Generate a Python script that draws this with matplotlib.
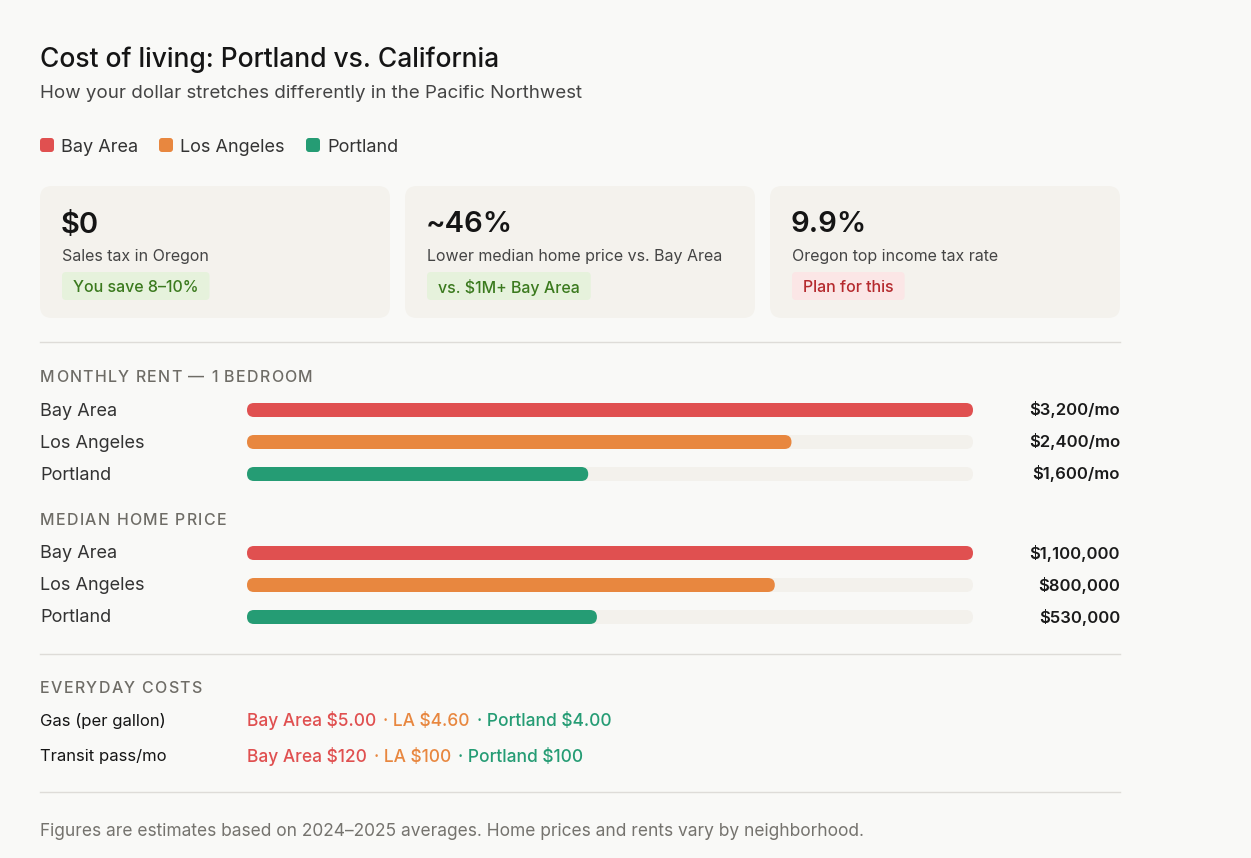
import matplotlib.pyplot as plt
from matplotlib.patches import FancyBboxPatch

plt.rcParams['font.family'] = ['Inter', 'DejaVu Sans']

# Colours
colors = {
    'Bay Area': '#E05050',
    'Los Angeles': '#E8873F',
    'Portland': '#259C74',
}
bg = '#F9F9F7'
card_bg = '#F4F2ED'
track_bg = '#F3F1EC'

# Data
cities = ['Bay Area', 'Los Angeles', 'Portland']
rent_labels = ['$3,200/mo', '$2,400/mo', '$1,600/mo']
rent_share = [100, 75, 47]          # bar length, % of longest
home_labels = ['$1,100,000', '$800,000', '$530,000']
home_share = [100, 72.7, 48.2]

card_values = ['$0', '~46%', '9.9%']
card_desc = ['Sales tax in Oregon', 'Lower median home price vs. Bay Area',
             'Oregon top income tax rate']
card_tags = ['You save 8–10%', 'vs. $1M+ Bay Area', 'Plan for this']
card_tag_kind = ['good', 'good', 'bad']

everyday_rows = ['Gas (per gallon)', 'Transit pass/mo']
everyday_vals = [
    ['Bay Area $5.00', '· LA $4.60', '· Portland $4.00'],
    ['Bay Area $120', '· LA $100', '· Portland $100'],
]

W, H = 1251, 858
fig = plt.figure(figsize=(W / 100, H / 100), dpi=100, facecolor=bg)
ax = fig.add_axes([0, 0, 1, 1])
ax.set_xlim(0, W)
ax.set_ylim(H, 0)
ax.axis('off')
ax.set_facecolor(bg)
fig.canvas.draw()


def rbox(x, y, w, h, r, color):
    p = FancyBboxPatch((x + r, y + r), w - 2 * r, h - 2 * r,
                       boxstyle=f'round,pad={r}', facecolor=color,
                       edgecolor='none', mutation_aspect=1)
    ax.add_patch(p)


def right_edge(t):
    bb = t.get_window_extent(renderer=fig.canvas.get_renderer())
    return bb.transformed(ax.transData.inverted()).x1


def spaced(x, y, s, spacing=1.3, **kw):
    # text with letter spacing, drawn one character at a time
    for ch in s:
        t = ax.text(x, y, ch, **kw)
        x = right_edge(t) + spacing if ch != ' ' else x + 4 + spacing


# Title block
ax.text(40, 57, 'Cost of living: Portland vs. California', fontsize=19,
        weight='medium', color='#151515', va='center_baseline')
ax.text(40, 91, 'How your dollar stretches differently in the Pacific Northwest',
        fontsize=13.5, color='#444444', va='center_baseline')

# Legend
leg_x = [40, 159, 306]
for c, lx in zip(cities, leg_x):
    rbox(lx, 138, 14, 14, 3, colors[c])
    ax.text(lx + 21, 145, c, fontsize=13, color='#333333', va='center_baseline')

# Cards
card_x = [40, 405, 770]
for i, cx in enumerate(card_x):
    rbox(cx, 186, 350, 132, 12, card_bg)
    ax.text(cx + 21, 222, card_values[i], fontsize=21, weight='semibold',
            color='#151515', va='center_baseline')
    ax.text(cx + 22, 255, card_desc[i], fontsize=11.5, color='#444444',
            va='center_baseline')
    fg, tag_bg = ('#3B7A1E', '#E6F2DC') if card_tag_kind[i] == 'good' else ('#B52A2E', '#FBE6E6')
    t = ax.text(cx + 33, 286, card_tags[i], fontsize=11.5, weight='medium',
                color=fg, va='center_baseline', zorder=3)
    rbox(cx + 22, 272, right_edge(t) - (cx + 33) + 22, 28, 4, tag_bg)

# Separators
for sy in [342, 654, 792]:
    ax.plot([40, 1120], [sy, sy], color='#DEDCD8', lw=1)

track_x0, track_x1 = 247, 973
track_w = track_x1 - track_x0
bar_h = 14
head_kw = dict(fontsize=11.5, color='#6E6C66', va='baseline',
               weight='medium')


def bar_section(title, ty, rows_y, shares, labels):
    spaced(40, ty + 5, title, **head_kw)
    for c, y, s, lab in zip(cities, rows_y, shares, labels):
        ax.text(40, y + 5.5, c, fontsize=13, color='#333333', va='baseline')
        rbox(track_x0, y - bar_h / 2, track_w, bar_h, bar_h / 2, track_bg)
        rbox(track_x0, y - bar_h / 2, track_w * s / 100, bar_h, bar_h / 2,
             colors[c])
        ax.text(1120, y + 5.5, lab, fontsize=12, weight='semibold',
                color='#1A1A1A', va='baseline', ha='right')


bar_section('MONTHLY RENT — 1 BEDROOM', 377, [410, 442, 474], rent_share, rent_labels)
bar_section('MEDIAN HOME PRICE', 520, [553, 585, 617], home_share, home_labels)

# Everyday costs
spaced(40, 693, 'EVERYDAY COSTS', **head_kw)
for label, vals, y in zip(everyday_rows, everyday_vals, [721, 756]):
    ax.text(40, y + 5, label, fontsize=12, color='#151515', va='baseline')
    x = 247
    for c, v in zip(cities, vals):
        t = ax.text(x, y + 5.5, v, fontsize=12.5, weight='medium',
                    color=colors[c], va='baseline')
        x = right_edge(t) + 7

# Footer
ax.text(40, 829, 'Figures are estimates based on 2024–2025 averages. '
        'Home prices and rents vary by neighborhood.',
        fontsize=12.5, color='#75736E', va='center_baseline')

plt.savefig('out.png', dpi=100, facecolor=bg)
